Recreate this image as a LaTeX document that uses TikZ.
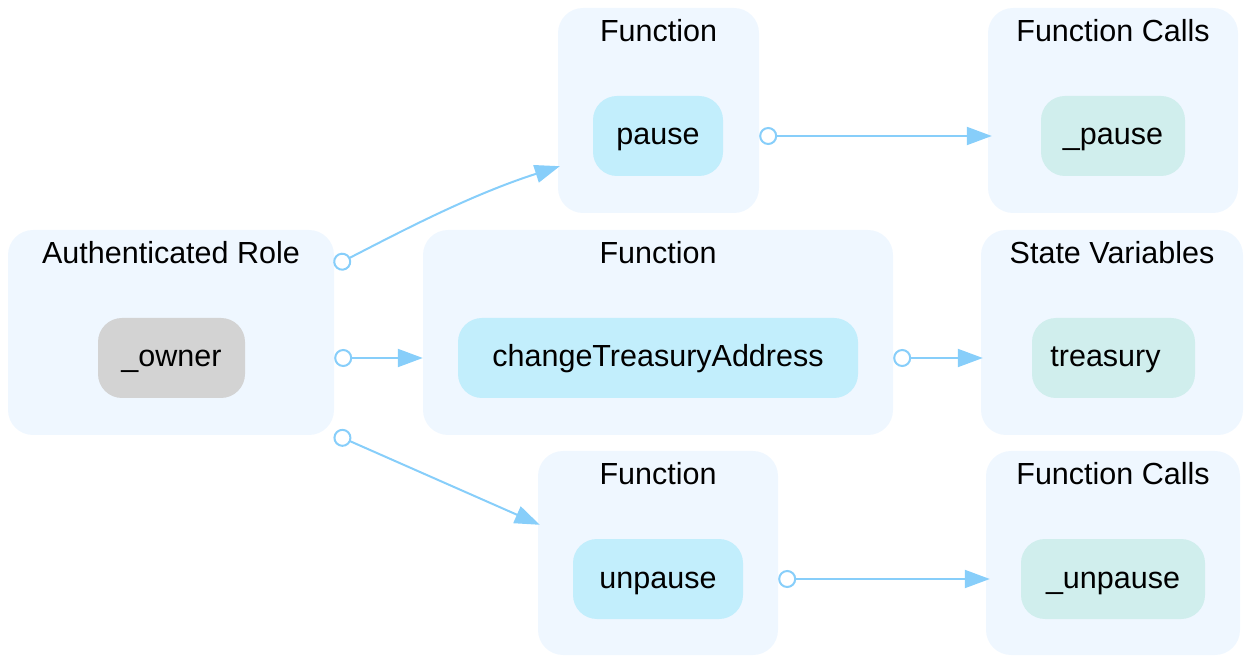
\documentclass[tikz,border=0pt]{standalone}
\usepackage{fontspec}
\setmainfont{Liberation Sans}
\usetikzlibrary{arrows.meta,calc}

\definecolor{clusterfill}{HTML}{EFF7FF}
\definecolor{funcfill}{HTML}{C2EEFC}
\definecolor{callfill}{HTML}{D0EEED}
\definecolor{rolefill}{HTML}{D3D3D3}
\definecolor{edgecol}{HTML}{87CEFA}

\tikzset{
  txt/.style={font=\fontsize{30.5}{36}\selectfont},
  cluster/.style={draw=none, fill=clusterfill, rounded corners=25pt,
    inner sep=0pt, minimum height=205pt},
  title/.style={txt, anchor=base, inner sep=0pt},
  item/.style={txt, draw=none, rounded corners=24pt, inner sep=0pt,
    minimum height=80pt, text height=22pt, text depth=4pt},
  funcnode/.style={item, fill=funcfill},
  callnode/.style={item, fill=callfill},
  rolenode/.style={item, fill=rolefill},
  link/.style={draw=edgecol, line width=2pt,
    {Circle[length=18pt,width=18pt,fill=white]}-{Triangle[length=25pt,width=18pt]}}
}

\begin{document}
\begin{tikzpicture}[x=1pt,y=1pt]
\useasboundingbox (0,0) rectangle (1244,656);

% groups
\node[cluster, minimum width=326pt] (auth)      at (171,323.5) {};
\node[cluster, minimum width=201pt] (fpause)    at (658.5,545.5) {};
\node[cluster, minimum width=250pt] (cpause)    at (1113,545.5) {};
\node[cluster, minimum width=470pt] (fchange)   at (658,323.5) {};
\node[cluster, minimum width=262pt] (state)     at (1112,323.5) {};
\node[cluster, minimum width=240pt, minimum height=204pt] (funpause) at (658,103) {};
\node[cluster, minimum width=254pt, minimum height=204pt] (cunpause) at (1113,103) {};

% group titles
\node[title] (tauth)     at ([yshift=-34pt]auth.north)     {Authenticated Role};
\node[title] (tfpause)   at ([yshift=-34pt]fpause.north)   {Function};
\node[title] (tcpause)   at ([yshift=-34pt]cpause.north)   {Function Calls};
\node[title] (tfchange)  at ([yshift=-34pt]fchange.north)  {Function};
\node[title] (tstate)    at ([yshift=-34pt]state.north)    {State Variables};
\node[title] (tfunpause) at ([yshift=-34pt]funpause.north) {Function};
\node[title] (tcunpause) at ([yshift=-34pt]cunpause.north) {Function Calls};

% members
\node[rolenode, minimum width=147pt] (owner)    at (171.5,298) {\_owner};
\node[funcnode, minimum width=130pt] (pause)    at (658,520)   {pause};
\node[callnode, minimum width=144pt] (ipause)   at (1113,520)  {\_pause};
\node[funcnode, minimum width=400pt] (change)   at (658,298)   {changeTreasuryAddress};
\node[callnode, minimum width=163pt] (treasury) at (1113.5,298) {treasury\kern16pt};
\node[funcnode, minimum width=170pt] (unpause)  at (658,77)    {unpause};
\node[callnode, minimum width=184pt] (iunpause) at (1113,77)   {\_unpause};

% connectors
\draw[link] ([yshift=-36pt]auth.north east)
  .. controls (400,424) and (470,461) .. ([shift={(2pt,47pt)}]fpause.south west);
\draw[link] (auth.east |- owner) -- (fchange.west |- change);
\draw[link] ([yshift=1pt]auth.south east) -- ([shift={(2pt,-74pt)}]funpause.north west);
\draw[link] (fpause.east |- pause) -- ([xshift=4pt]cpause.west |- ipause);
\draw[link] (fchange.east |- change) -- ([xshift=2pt]state.west |- treasury);
\draw[link] (funpause.east |- unpause) -- ([xshift=4pt]cunpause.west |- iunpause);
\end{tikzpicture}
\end{document}
